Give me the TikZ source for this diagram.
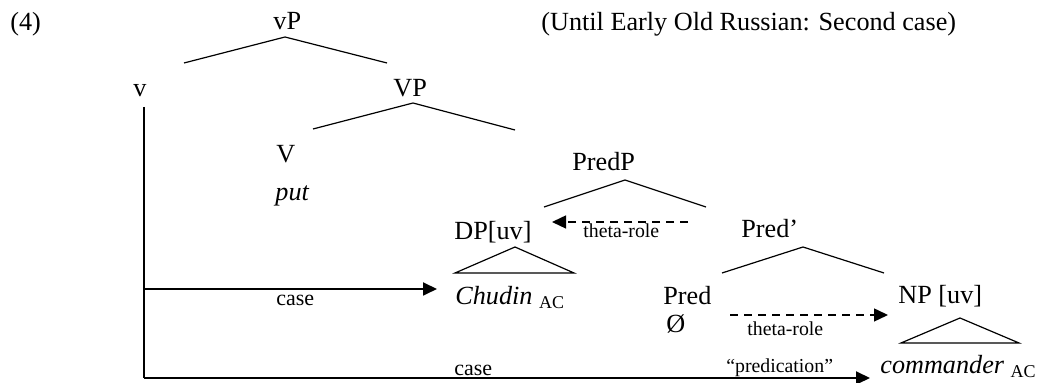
\documentclass[tikz,border=0pt]{standalone}
\usepackage{fontspec}
\setmainfont{Liberation Serif}
\usetikzlibrary{arrows.meta,positioning}
\newcommand\acsub{\raisebox{-2pt}{\fontsize{9}{10}\selectfont AC}}

\begin{document}
\begin{tikzpicture}[x=0.5pt, y=-0.5pt,
      every node/.append style={inner sep=0pt, anchor=base west,
        font=\fontsize{13.1}{15}\selectfont},
      small/.style={font=\fontsize{11}{13}\selectfont},
      tiny/.style={font=\fontsize{9.9}{12}\selectfont},
      branch/.style={line width=0.6pt},
      link/.style={line width=0.9pt, -{Triangle[length=7pt,width=6.5pt]}},
      theta/.style={link, line width=0.7pt, dash pattern=on 3.8pt off 3.2pt}]
    \useasboundingbox (0,0) rectangle (1044,383);
    \node (ex) at (10,31) {(4)};
    \node (title) at (541,31) {(Until Early Old Russian: Second case)};
    \node (vP) at (273,30) {vP};
    \node (v) at (133,97) {v};
    \node (VP) at (393,97) {VP};
    \node (V) at (276,163) {V};
    \node (put) at (275,201) {\textit{put}};
    \node (PredP) at (572,171) {PredP};
    \node (DP) at (454,240) {DP[uv]};
    \node (Predbar) at (741,238) {Pred’};
    \node (Chudin) at (455,305) {\textit{Chudin} \acsub};
    \node (Pred) at (663,305) {Pred};
    \node (null) at (666,333) {Ø};
    \node (NP) at (898,304) {NP [uv]};
    \node (commander) at (880,374) {\textit{commander} \acsub};
    % branches
    \draw[branch] (184,63) -- (285,37) -- (387,63);
    \draw[branch] (313,129) -- (413,103) -- (515,130);
    \draw[branch] (544,207) -- (625,180) -- (706,207);
    \draw[branch] (722,273) -- (803,247) -- (884,273);
    \draw[branch] (455,273) -- (515,247) -- (574,273) -- cycle;
    \draw[branch] (901,343) -- (960,318) -- (1019,343) -- cycle;
    % case and theta-role relations
    \coordinate (vtop) at (144,107);
    \coordinate (vcase) at (144,289);
    \coordinate (vbot) at (144,378);
    \coordinate (chudinend) at (437,289);
    \coordinate (cmdend) at (870,378);
    \coordinate (th1from) at (688,222);
    \coordinate (th1to) at (552,222);
    \coordinate (th2from) at (730,315);
    \coordinate (th2to) at (888,315);
    \draw[line width=0.9pt] (vtop) -- (vbot);
    \draw[link] (vcase) -- (chudinend);
    \draw[link] (vbot) -- (cmdend);
    \draw[theta] (th1from) -- (th1to);
    \draw[theta] (th2from) -- (th2to);
    \node[small] (case1) at (276,306) {case};
    \node[small] (case2) at (454,376) {case};
    \node[tiny] (theta1) at (583,238) {theta-role};
    \node[tiny] (theta2) at (747,336) {theta-role};
    \node[tiny] (pred) at (726,373) {“predication”};
\end{tikzpicture}
\end{document}
